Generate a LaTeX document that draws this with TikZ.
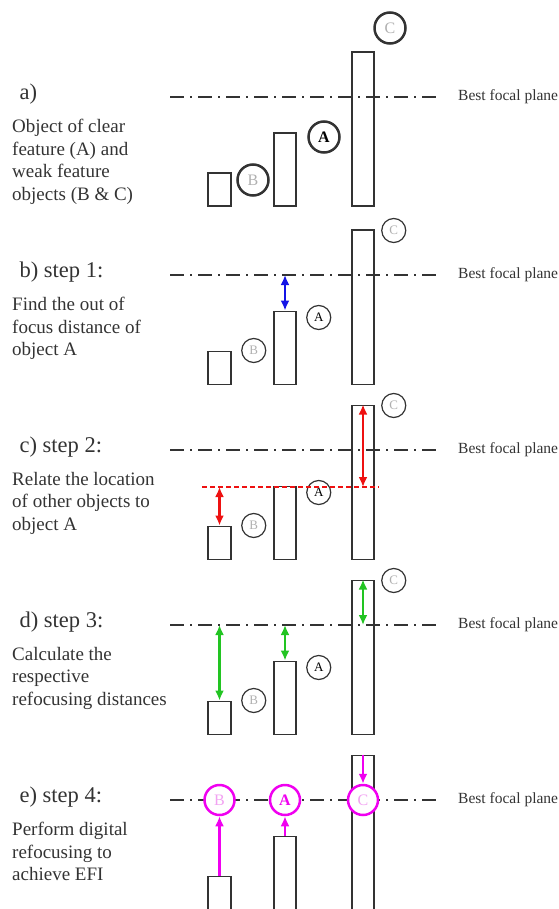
\documentclass[tikz,border=0pt]{standalone}
\usepackage{fontspec}
\setmainfont{Liberation Serif}
\usetikzlibrary{arrows.meta}

\definecolor{ink}{HTML}{333333}
\definecolor{faint}{HTML}{B0B0B0}
\definecolor{mag}{HTML}{F000F0}
\definecolor{softmag}{HTML}{F2A2F2}
\definecolor{dgreen}{HTML}{22C422}
\definecolor{dblue}{HTML}{1414E6}
\definecolor{dred}{HTML}{EE1111}

\begin{document}
\begin{tikzpicture}[x=1pt, y=-1pt,
    focal/.style={ink, line width=1.6pt, dash pattern=on 14pt off 6pt on 2pt off 6pt},
    bar/.style={draw=ink, line width=1.5pt, minimum width=22pt, inner sep=0pt, anchor=south},
    obj/.style={circle, draw=ink, line width=1.2pt, minimum size=24pt, inner sep=0pt,
        font=\fontsize{13}{13}\selectfont},
    dist/.style={{Latex[length=10pt,width=9pt]}-{Latex[length=10pt,width=9pt]}, line width=2.3pt},
    push/.style={-{Latex[length=10pt,width=9pt]}, mag, line width=2.3pt},
    head/.style={ink, anchor=west, font=\fontsize{22.5}{26}\selectfont},
    desc/.style={ink, anchor=north west, inner sep=0pt, align=left,
        font=\fontsize{19}{22.5}\selectfont},
    plane/.style={ink, anchor=west, inner sep=0pt, font=\fontsize{15.5}{17}\selectfont}]
\useasboundingbox (0,0) rectangle (558,909);

% focal plane, the three objects and the text of every step
\foreach \p/\L/\hd/\tx in {
    a/97/{a)}/{Object of clear\\feature (A) and\\weak feature\\objects (B \& C)},
    b/275/{b) step 1:}/{Find the out of\\focus distance of\\object A},
    c/450/{c) step 2:}/{Relate the location\\of other objects to\\object A},
    d/625/{d) step 3:}/{Calculate the\\respective\\refocusing distances},
    e/800/{e) step 4:}/{Perform digital\\refocusing to\\achieve EFI}}{
    \draw[focal] (170,\L) -- (440,\L);
    \node[plane] (plane-\p) at (458,\L) {Best focal plane};
    \node[bar, minimum width=23pt, minimum height=33pt] (B-\p) at (219.5,\L+110) {};
    \node[bar, minimum height=73pt] (A-\p) at (285,\L+110) {};
    \node[bar, minimum height=154pt] (C-\p) at (363,\L+110) {};
    \node[head] (head-\p) at (16,\L-3) {\hd};
    \node[desc] (desc-\p) at (12,\L+22) {\tx};
}

% a) object labels
\node[obj, line width=2.5pt, minimum size=31pt, font=\bfseries\fontsize{16}{16}\selectfont]
    (cA-a) at (324,137) {A};
\node[obj, line width=2.5pt, minimum size=31pt, text=faint, font=\fontsize{16}{16}\selectfont]
    (cB-a) at (253,180) {B};
\node[obj, line width=2.5pt, minimum size=31pt, text=faint, font=\fontsize{16}{16}\selectfont]
    (cC-a) at (390,28) {C};

% b) to d) object labels
\foreach \p in {b,c,d}{
    \node[obj] (cA-\p) at ([xshift=22pt, yshift=-7pt]A-\p.north east) {A};
    \node[obj, text=faint] (cB-\p) at ([xshift=22pt]B-\p.north east) {B};
    \node[obj, text=faint] (cC-\p) at ([xshift=19pt, yshift=-1pt]C-\p.north east) {C};
}

% b) distance of A to the focal plane
\draw[dist, dblue] (A-b.north) -- (A-b.north |- plane-b);

% c) other objects measured from the level of A
\coordinate (lvl-l) at (202,487);
\coordinate (lvl-r) at (379,487);
\draw[dred, line width=1.8pt, dash pattern=on 5pt off 3pt] (lvl-l) -- (lvl-r);
\draw[dist, dred] (B-c.north) -- (B-c.north |- lvl-l);
\draw[dist, dred] (C-c.north) -- (C-c.north |- lvl-l);

% d) refocusing distances
\draw[dist, dgreen] (B-d.north) -- (B-d.north |- plane-d);
\draw[dist, dgreen] (A-d.north) -- (A-d.north |- plane-d);
\draw[dist, dgreen] (C-d.north) -- (C-d.north |- plane-d);

% e) all objects brought onto the focal plane
\foreach \o/\col/\fw in {B/softmag/\mdseries, A/mag/\bfseries, C/softmag/\mdseries}{
    \node[obj, draw=mag, fill=white, line width=2.5pt, minimum size=30pt, text=\col,
        font=\fw\fontsize{16}{16}\selectfont] (c\o-e) at (\o-e.north |- plane-e) {\o};
}
\draw[push] (B-e.north) -- (cB-e);
\draw[push] (A-e.north) -- (cA-e);
\draw[push] (C-e.north) -- (cC-e);
\end{tikzpicture}
\end{document}
